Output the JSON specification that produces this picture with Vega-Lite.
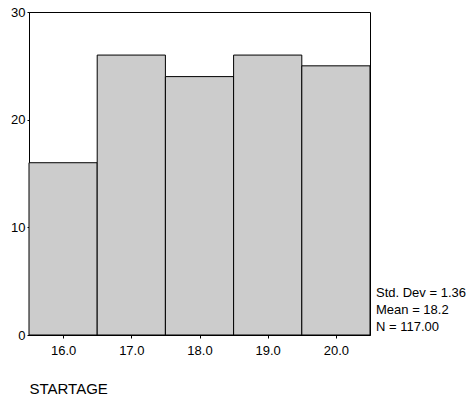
{
  "$schema": "https://vega.github.io/schema/vega-lite/v6.json",
  "autosize": "none",
  "width": 341,
  "height": 323,
  "padding": {"left": 29, "top": 12, "right": 98, "bottom": 63},
  "background": "white",
  "config": {
    "font": "Liberation Sans",
    "view": {"stroke": "#000000", "strokeWidth": 1},
    "axis": {"grid": false, "domainColor": "#000000", "tickColor": "#000000", "labelColor": "#000000", "labelFont": "Liberation Sans", "labelFontSize": 13, "titleFont": "Liberation Sans", "titleFontWeight": "normal", "titleColor": "#000000"}
  },
  "layer": [
    {
      "data": {"values": [
        {"start": 15.5, "end": 16.5, "count": 16},
        {"start": 16.5, "end": 17.5, "count": 26},
        {"start": 17.5, "end": 18.5, "count": 24},
        {"start": 18.5, "end": 19.5, "count": 26},
        {"start": 19.5, "end": 20.5, "count": 25}
      ]},
      "mark": {"type": "rect", "fill": "#cccccc", "stroke": "#000000", "strokeWidth": 1},
      "encoding": {
        "x": {"field": "start", "type": "quantitative", "scale": {"domain": [15.5, 20.5], "nice": false, "zero": false},
          "axis": {"values": [16, 17, 18, 19, 20], "format": ".1f", "tickSize": 3, "labelPadding": 6, "title": "STARTAGE", "titleFontSize": 15, "titleAnchor": "start", "titleAlign": "left", "titlePadding": 24}},
        "x2": {"field": "end"},
        "y": {"field": "count", "type": "quantitative", "scale": {"domain": [0, 30], "nice": false},
          "axis": {"values": [0, 10, 20, 30], "tickSize": 2, "labelPadding": 2, "title": null}},
        "y2": {"datum": 0}
      }
    },
    {
      "data": {"values": [{"stats": "summary"}]},
      "mark": {"type": "text", "align": "left", "baseline": "middle", "dx": 6, "dy": -42, "fontSize": 13, "fontWeight": "normal", "lineHeight": 17, "font": "Liberation Sans", "fill": "#000000",
        "text": ["Std. Dev = 1.36", "Mean = 18.2", "N = 117.00"]},
      "encoding": {
        "x": {"datum": 20.5},
        "y": {"datum": 0}
      }
    }
  ]
}
